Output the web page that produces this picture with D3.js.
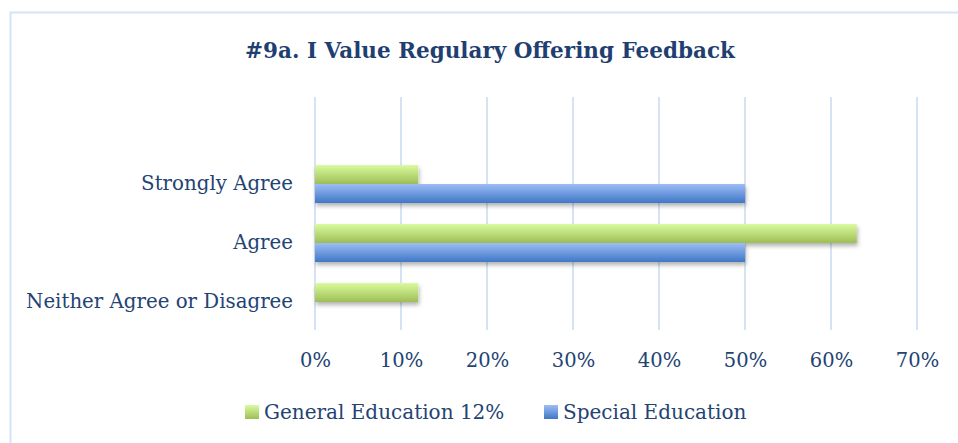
<!DOCTYPE html>
<html>
<head>
<meta charset="utf-8">
<script src="https://cdn.jsdelivr.net/npm/d3@7"></script>
<style>
  body { margin: 0; background: #fff; }
  text { font-family: "DejaVu Serif", serif; fill: #234373; }
</style>
</head>
<body>
<svg width="958" height="443"></svg>
<script>
var categories = ["Strongly Agree", "Agree", "Neither Agree or Disagree"];
var seriesNames = ["General Education 12%", "Special Education"];
var generalEd = [0.12, 0.63, 0.12];
var specialEd = [0.50, 0.50, 0];
var tickValues = [0, 0.1, 0.2, 0.3, 0.4, 0.5, 0.6, 0.7];

var svg = d3.select('svg');
var defs = svg.append("defs");

// gradients for the bars
function grad(id, top, bottom) {
    var g = defs.append("linearGradient").attr("id", id)
        .attr("x1", 0).attr("y1", 0).attr("x2", 0).attr("y2", 1);
    g.append("stop").attr("offset", "0%").attr("stop-color", top);
    g.append("stop").attr("offset", "100%").attr("stop-color", bottom);
}
grad("g-green", "#DAFB9E", "#9DBE55");
grad("g-blue", "#9DBDF6", "#3F77C6");

var f = defs.append("filter").attr("id", "shadow")
    .attr("x", "-5%").attr("y", "-30%").attr("width", "110%").attr("height", "180%");
f.append("feDropShadow").attr("dx", 1).attr("dy", 3).attr("stdDeviation", 2)
    .attr("flood-color", "#000").attr("flood-opacity", 0.3);

// chart frame
svg.append("rect")
    .attr("x", 10.5).attr("y", 12.5)
    .attr("width", 1000).attr("height", 500)
    .attr("fill", "none").attr("stroke", "#D5E3F5").attr("stroke-width", 2);

var x = d3.scaleLinear().domain([0, 0.7]).range([315, 917]);
var y = d3.scaleBand().domain(categories).range([154.5, 331.5]);
var inner = d3.scaleBand().domain(seriesNames).range([-19, 19]);

var plotTop = 97, plotBottom = 330;

// gridlines
svg.append("g").selectAll("line")
    .data(tickValues)
    .enter().append("line")
    .attr("x1", function(d) { return x(d); })
    .attr("x2", function(d) { return x(d); })
    .attr("y1", plotTop).attr("y2", plotBottom)
    .attr("stroke", "#D5E3F5").attr("stroke-width", 2);

// x axis labels
var xAxis = d3.axisBottom(x).tickValues(tickValues)
    .tickFormat(d3.format(".0%")).tickSize(0).tickPadding(0);
var gx = svg.append("g").attr("transform", "translate(0,360)").call(xAxis);
gx.select(".domain").remove();
gx.selectAll("text").attr("font-size", 19.5).attr("dy", "0.35em")
    .style("font-family", '"DejaVu Serif", serif').attr("fill", "#234373");

// category labels
var yAxis = d3.axisLeft(y).tickSize(0).tickPadding(22);
var gy = svg.append("g").attr("transform", "translate(315,0)").call(yAxis);
gy.select(".domain").remove();
gy.selectAll("text").attr("font-size", 19.8)
    .style("font-family", '"DejaVu Serif", serif').attr("fill", "#234373");

// bars
var rows = categories.map(function(c, i) {
    return [
        { cat: c, name: seriesNames[0], v: generalEd[i], fill: "url(#g-green)" },
        { cat: c, name: seriesNames[1], v: specialEd[i], fill: "url(#g-blue)" }
    ];
});
var flat = [].concat.apply([], rows).filter(function(d) { return d.v > 0; });

svg.append("g").selectAll("rect")
    .data(flat)
    .enter().append("rect")
    .attr("x", x(0))
    .attr("y", function(d) { return y(d.cat) + y.bandwidth() / 2 + inner(d.name); })
    .attr("width", function(d) { return x(d.v) - x(0); })
    .attr("height", inner.bandwidth())
    .attr("fill", function(d) { return d.fill; })
    .attr("filter", "url(#shadow)");

// title
svg.append("text")
    .attr("x", 490).attr("y", 58)
    .attr("text-anchor", "middle")
    .attr("font-size", 21.5).attr("font-weight", "bold")
    .style("fill", "#1F3F72")
    .text("#9a. I Value Regulary Offering Feedback");

// legend
var legendX = [245, 544];
var lg = svg.append("g").selectAll("g")
    .data(seriesNames)
    .enter().append("g")
    .attr("transform", function(d, i) { return "translate(" + legendX[i] + ",405)"; });
lg.append("rect")
    .attr("width", 14).attr("height", 14)
    .attr("fill", function(d, i) { return i == 0 ? "url(#g-green)" : "url(#g-blue)"; });
lg.append("text")
    .attr("x", 19).attr("y", 7).attr("dy", "0.35em")
    .attr("font-size", 20)
    .text(function(d) { return d; });
</script>
</body>
</html>
